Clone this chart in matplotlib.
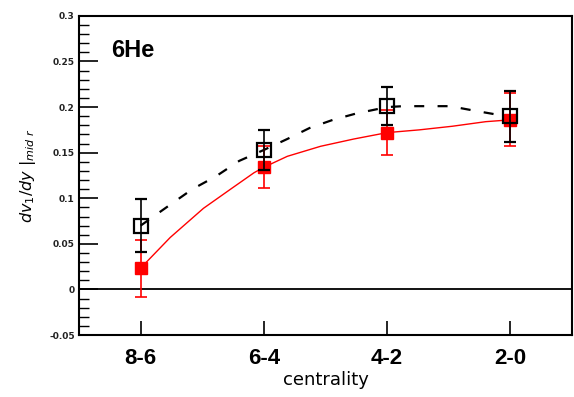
import matplotlib
matplotlib.use("Agg")
import matplotlib.pyplot as plt
from matplotlib.ticker import MultipleLocator, FixedLocator

# centrality bins
categories = ["8-6", "6-4", "4-2", "2-0"]
xpos = [1, 2, 3, 4]

# directed-flow slope, filled (red) points
red_vals = [0.023, 0.134, 0.172, 0.186]
red_err = [0.031, 0.023, 0.025, 0.029]

# directed-flow slope, open (black) points
blk_vals = [0.070, 0.153, 0.201, 0.190]
blk_err = [0.029, 0.022, 0.021, 0.028]

# smooth guide curves
red_fit_x = [1.0, 1.04, 1.24, 1.51, 1.73, 1.92, 2.0, 2.19, 2.46, 2.73, 3.0, 3.26, 3.53, 3.80, 4.0]
red_fit_y = [0.023, 0.029, 0.057, 0.089, 0.110, 0.128, 0.134, 0.146, 0.157, 0.165, 0.172, 0.175, 0.179, 0.184, 0.186]
blk_fit_x = [1.0, 1.23, 1.42, 1.61, 1.80, 2.0, 2.19, 2.37, 2.56, 2.75, 3.0, 3.13, 3.32, 3.51, 3.71, 3.88, 4.0]
blk_fit_y = [0.070, 0.092, 0.110, 0.124, 0.141, 0.153, 0.165, 0.177, 0.186, 0.193, 0.200, 0.201, 0.201, 0.201, 0.196, 0.192, 0.190]

# y-axis tick values and their labels
ytick_vals = [-0.05, 0.0, 0.05, 0.1, 0.15, 0.2, 0.25, 0.3]
ytick_labels = ["-0.05", "0", "0.05", "0.1", "0.15", "0.2", "0.25", "0.3"]

fig = plt.figure(figsize=(5.74, 3.97), dpi=100)
ax = fig.add_axes([0.1376, 0.156, 0.859, 0.804])

ax.axhline(0, color="black", lw=1.3, zorder=1)

ax.plot(red_fit_x, red_fit_y, color="red", lw=1.0, zorder=2)
ax.plot(blk_fit_x, blk_fit_y, color="black", lw=1.6,
        linestyle=(0, (4.5, 6.0)), zorder=2)

ax.errorbar(xpos, red_vals, yerr=red_err, fmt="s", color="red",
            ms=8.5, mec="red", mfc="red", ecolor="red", elinewidth=1.2,
            capsize=4.5, capthick=1.2, zorder=3)
ax.errorbar(xpos, blk_vals, yerr=blk_err, fmt="s", color="black",
            ms=10, mec="black", mfc="none", mew=1.6, ecolor="black",
            elinewidth=1.2, capsize=4, capthick=1.5, zorder=4)

ax.set_xlim(0.5, 4.5)

ax.xaxis.set_major_locator(FixedLocator(xpos))
ax.set_xticklabels(categories, fontfamily="Liberation Sans",
                   fontweight="bold", fontsize=16)
ax.set_yticks(ytick_vals)
ax.set_yticklabels(ytick_labels, fontsize=6.5, fontweight="bold", color="#222222")
ax.yaxis.set_minor_locator(MultipleLocator(0.01))
ax.set_ylim(-0.05, 0.3)

ax.tick_params(axis="y", which="major", direction="in", length=14, width=1.2, pad=3)
ax.tick_params(axis="y", which="minor", direction="in", length=7, width=1.0)
ax.tick_params(axis="x", which="major", direction="in", length=10, width=1.2, pad=9)
ax.tick_params(axis="x", which="minor", bottom=False)

for s in ax.spines.values():
    s.set_linewidth(1.5)

ax.set_xlabel("centrality", fontsize=13, labelpad=2)
ax.set_ylabel(r"$dv_1/dy\ |_{mid\ r}$", fontsize=11.5, labelpad=8)

ax.text(0.065, 0.87, "6He", transform=ax.transAxes, fontfamily="Liberation Sans",
        fontweight="bold", fontsize=17, va="baseline")

fig.savefig("out.png", dpi=100)
